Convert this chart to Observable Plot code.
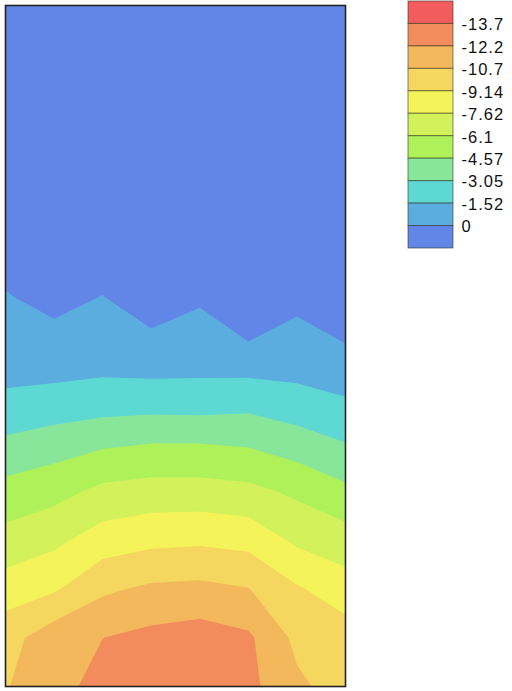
<!DOCTYPE html>
<html>
<head>
<meta charset="utf-8">
<script src="https://cdn.jsdelivr.net/npm/d3@7"></script>
<script src="https://cdn.jsdelivr.net/npm/@observablehq/plot@0.6"></script>
<style>
  html, body { margin: 0; padding: 0; background: #fff; }
  #chart { position: relative; width: 512px; height: 691px; }
  #chart svg { position: absolute; left: 0; top: 0; background: transparent; }
  #chart svg.legend text { letter-spacing: 1px; }
</style>
</head>
<body>
<div id="chart"></div>
<script>
// Nodal values of the field (8 columns x 15 rows, top row first)
const gridColumns = 8;
const gridRows = 15;
const row0  = [4.0, 4.0, 4.0, 4.0, 4.0, 4.0, 4.0, 4.0];
const row1  = [4.0, 4.0, 4.0, 4.0, 4.0, 4.0, 4.0, 4.0];
const row2  = [4.0, 4.0, 4.0, 4.0, 4.0, 4.0, 4.0, 4.0];
const row3  = [4.0, 4.0, 4.0, 4.0, 4.0, 4.0, 4.0, 4.0];
const row4  = [4.0, 4.0, 4.0, 4.0, 4.0, 4.0, 4.0, 4.0];
const row5  = [0.65, 1.61, 0.81, 2.47, 1.20, 3.80, 1.45, 2.72];
const row6  = [-0.11, 0.49, -0.05, 0.97, 0.19, 1.81, 0.41, 1.33];
const row7  = [-0.86, -0.63, -0.75, -0.54, -0.70, -0.19, -0.63, -0.07];
const row8  = [-1.62, -1.80, -1.95, -2.00, -1.95, -2.22, -1.79, -1.47];
const row9  = [-3.33, -3.82, -4.31, -4.56, -4.56, -4.38, -3.78, -3.08];
const row10 = [-5.15, -5.62, -6.50, -6.76, -6.76, -6.53, -5.83, -4.93];
const row11 = [-6.65, -7.28, -8.35, -8.76, -8.89, -8.65, -7.35, -6.83];
const row12 = [-8.35, -8.96, -10.44, -10.99, -11.11, -10.76, -9.32, -8.30];
const row13 = [-10.10, -11.60, -12.19, -12.61, -12.90, -12.46, -10.33, -9.90];
const row14 = [-10.60, -11.70, -12.70, -13.20, -13.30, -12.60, -11.00, -10.00];

// Contour levels (ascending) and their band colours
const levels = [-13.7, -12.2, -10.7, -9.14, -7.62, -6.1, -4.57, -3.05, -1.52, 0];
const levelColors = ["#f38c5d", "#f3b85c", "#f5d65e", "#f4f45a", "#d2f15a",
                     "#aef159", "#88e69a", "#5dd8d2", "#5caddf", "#6186e8"];

// Legend: boxes top to bottom, and labels at the box boundaries
const legendColors = ["#f25c5c", "#f38c5d", "#f3b85c", "#f5d65e", "#f4f45a", "#d2f15a",
                      "#aef159", "#88e69a", "#5dd8d2", "#5caddf", "#6186e8"];
const legendLabels = ["-13.7", "-12.2", "-10.7", "-9.14", "-7.62", "-6.1",
                      "-4.57", "-3.05", "-1.52", "0"];

const grid = [row0, row1, row2, row3, row4, row5, row6, row7, row8, row9,
              row10, row11, row12, row13, row14].flat();

const main = Plot.plot({
  width: 512,
  height: 691,
  marginLeft: 5,
  marginRight: 167,
  marginTop: 5,
  marginBottom: 5,
  x: {domain: [0, gridColumns - 1], axis: null},
  y: {domain: [0, gridRows - 1], reverse: true, axis: null},
  color: {type: "ordinal", domain: levels, range: levelColors},
  marks: [
    Plot.contour(grid, {
      width: gridColumns,
      height: gridRows,
      x1: -0.5, x2: gridColumns - 0.5,
      y1: -0.5, y2: gridRows - 0.5,
      fill: Plot.identity,
      thresholds: levels,
      clip: true
    }),
    Plot.frame({stroke: "#222", strokeWidth: 1.6})
  ]
});

const bandIndex = d3.range(legendColors.length);
const legend = Plot.plot({
  width: 512,
  height: 691,
  margin: 0,
  className: "legend",
  x: {domain: [0, 1], range: [408, 453], axis: null},
  y: {domain: [0, legendColors.length], range: [1, 248], axis: null},
  color: {type: "ordinal", domain: bandIndex, range: legendColors},
  marks: [
    Plot.rect(bandIndex, {
      x1: 0, x2: 1,
      y1: d => d, y2: d => d + 1,
      fill: d => d,
      stroke: "rgba(40,40,20,0.55)",
      strokeWidth: 1
    }),
    Plot.text(legendLabels, {
      x: 1,
      y: (d, i) => i + 1,
      text: d => d,
      textAnchor: "start",
      dx: 8,
      dy: 1,
      fontSize: 16.5,
      fontFamily: "Liberation Sans, Arial, sans-serif",
      fill: "#111"
    })
  ]
});
legend.classList.add("legend");

const chart = document.getElementById("chart");
chart.appendChild(main);
chart.appendChild(legend);
</script>
</body>
</html>
